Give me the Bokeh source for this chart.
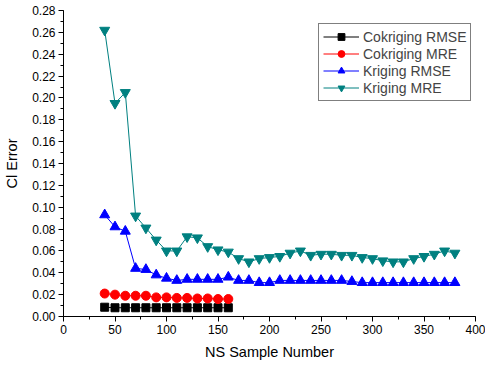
from bokeh.plotting import figure
from bokeh.models import Range1d, SingleIntervalTicker, NumeralTickFormatter, Legend, LegendItem
from bokeh.embed import file_html
from bokeh.resources import INLINE

# Data
kr_x = [40, 50, 60, 70, 80, 90, 100, 110, 120, 130, 140, 150, 160, 170, 180, 190, 200, 210,
        220, 230, 240, 250, 260, 270, 280, 290, 300, 310, 320, 330, 340, 350, 360, 370, 380]
kr_mre = [0.262, 0.195, 0.205, 0.092, 0.081, 0.070, 0.060, 0.060, 0.073, 0.072, 0.064, 0.061,
          0.059, 0.053, 0.050, 0.053, 0.054, 0.055, 0.058, 0.060, 0.056, 0.057, 0.057, 0.056,
          0.056, 0.054, 0.053, 0.051, 0.050, 0.050, 0.053, 0.055, 0.057, 0.060, 0.058]
kr_rmse = [0.093, 0.082, 0.078, 0.044, 0.043, 0.038, 0.035, 0.033, 0.034, 0.034, 0.034, 0.034,
           0.036, 0.033, 0.033, 0.031, 0.031, 0.033, 0.033, 0.033, 0.033, 0.033, 0.033, 0.033,
           0.032, 0.031, 0.031, 0.031, 0.031, 0.031, 0.031, 0.031, 0.031, 0.031, 0.031]
ck_x = [40, 50, 60, 70, 80, 90, 100, 110, 120, 130, 140, 150, 160]
ck_mre = [0.021, 0.020, 0.019, 0.019, 0.019, 0.0175, 0.0175, 0.017, 0.017, 0.0165, 0.0165, 0.016, 0.016]
ck_rmse = [0.0085, 0.008, 0.008, 0.008, 0.008, 0.008, 0.008, 0.008, 0.008, 0.008, 0.008, 0.008, 0.008]

FONT = "Liberation Sans"

p = figure(width=485, height=365, output_backend="svg", toolbar_location=None,
           x_range=Range1d(0, 400), y_range=Range1d(0, 0.28),
           min_border_left=63, min_border_right=10, min_border_top=10, min_border_bottom=49)
p.grid.visible = False
p.outline_line_color = None
p.background_fill_color = "white"
p.border_fill_color = "white"

p.xaxis.ticker = SingleIntervalTicker(interval=50, num_minor_ticks=2)
p.yaxis.ticker = SingleIntervalTicker(interval=0.02, num_minor_ticks=2)
p.yaxis.formatter = NumeralTickFormatter(format="0.00")
for ax in (p.xaxis, p.yaxis):
    ax.axis_line_color = "black"
    ax.major_tick_line_color = "black"
    ax.minor_tick_line_color = "black"
    ax.major_tick_out = 5
    ax.major_tick_in = 0
    ax.minor_tick_out = 3
    ax.minor_tick_in = 0
    ax.major_label_text_font = FONT
    ax.major_label_text_font_size = "12px"
    ax.major_label_text_color = "black"
    ax.axis_label_text_font = FONT
    ax.axis_label_text_font_size = "14.5px"
    ax.axis_label_text_font_style = "normal"
    ax.axis_label_text_color = "black"
p.xaxis.axis_label = "NS Sample Number"
p.yaxis.axis_label = "Cl Error"
p.xaxis.major_label_standoff = 3
p.yaxis.major_label_standoff = 3
p.xaxis.axis_label_standoff = 7
p.yaxis.axis_label_standoff = 9

items = []
series = [
    ("Cokriging RMSE", ck_x, ck_rmse, "black", "square", 8),
    ("Cokriging MRE", ck_x, ck_mre, "red", "circle", 9),
    ("Kriging RMSE", kr_x, kr_rmse, "blue", "triangle", 10),
    ("Kriging MRE", kr_x, kr_mre, "#008080", "inverted_triangle", 10),
]
for name, xs, ys, col, mk, sz in series:
    l = p.line(xs, ys, line_color=col, line_width=1)
    s = p.scatter(xs, ys, marker=mk, size=sz, fill_color=col, line_color=col)
    items.append(LegendItem(label=name, renderers=[l, s]))

legend = Legend(items=items, location=(255, 215), glyph_width=36, glyph_height=17,
                label_height=17, spacing=0, padding=4, margin=0, label_standoff=4,
                border_line_color="black", border_line_width=1,
                label_text_font=FONT, label_text_font_size="14px",
                background_fill_color="white", background_fill_alpha=1.0)
p.add_layout(legend, "center")

open("out.html", "w").write(file_html(p, INLINE))
